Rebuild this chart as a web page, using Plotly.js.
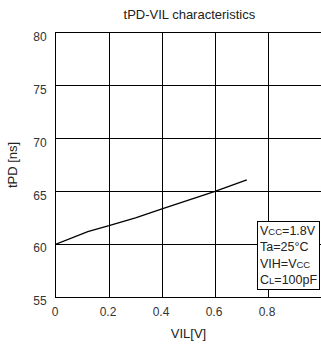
<!DOCTYPE html>
<html><head><meta charset="utf-8">
<script src="https://cdn.plot.ly/plotly-3.0.1.min.js"></script>
<style>html,body{margin:0;padding:0;background:#fff}#c{width:321px;height:344px}</style>
</head><body><div id="c"></div>
<script>
const vil = [0, 0.12, 0.2, 0.3, 0.4, 0.5, 0.6, 0.72];
const tpd = [60, 61.2, 61.75, 62.5, 63.35, 64.15, 65.0, 66.1];
const xTicks = [0, 0.2, 0.4, 0.6, 0.8, 1];
const xTickText = ['0', '0.2', '0.4', '0.6', '0.8', '1'];
const yTicks = [55, 60, 65, 70, 75, 80];
const condText = 'V<span style="font-size:9.5px">CC</span>=1.8V<br>Ta=25°C<br>VIH=V<span style="font-size:9.5px">CC</span><br>C<span style="font-size:9.5px">L</span>=100pF';

const font = {family: 'Liberation Sans, Arial, sans-serif', size: 12, color: '#333'};
Plotly.newPlot('c', [{
  x: vil, y: tpd, mode: 'lines', line: {color: '#000', width: 1.3}, hoverinfo: 'none'
}], {
  width: 321, height: 344,
  margin: {l: 56, r: 0, t: 33, b: 47},
  paper_bgcolor: '#fff', plot_bgcolor: '#fff',
  font: font,
  showlegend: false,
  title: {text: 'tPD-VIL characteristics', font: {size: 13, color: '#222'}, x: 0.59, xanchor: 'center', y: 0.958, yanchor: 'middle'},
  xaxis: {range: [0, 1], tickvals: xTicks, ticktext: xTickText, showgrid: true, gridcolor: '#000', gridwidth: 1,
    showline: true, linecolor: '#000', linewidth: 1, mirror: true, zeroline: false, ticks: '',
    ticklabelstandoff: 4, ticklabelshift: -1,
    title: {text: 'VIL[V]', font: {size: 13, color: '#222'}, standoff: 10}, tickfont: {size: 12, color: '#333'}},
  yaxis: {range: [55, 80], tickvals: yTicks, showgrid: true, gridcolor: '#000', gridwidth: 1,
    showline: true, linecolor: '#000', linewidth: 1, mirror: true, zeroline: false, ticks: '',
    ticklabelstandoff: 6, ticklabelshift: 4,
    title: {text: 'tPD [ns]', font: {size: 13, color: '#222'}, standoff: 12}, tickfont: {size: 12, color: '#333'}},
  annotations: [{
    xref: 'paper', yref: 'paper', x: 0.996, y: 0.025, xanchor: 'right', yanchor: 'bottom',
    text: condText, align: 'left', showarrow: false, bgcolor: '#fff', bordercolor: '#000', borderwidth: 1,
    borderpad: 2, font: {size: 12.5, color: '#222'}
  }]
}, {staticPlot: true});
</script></body></html>
